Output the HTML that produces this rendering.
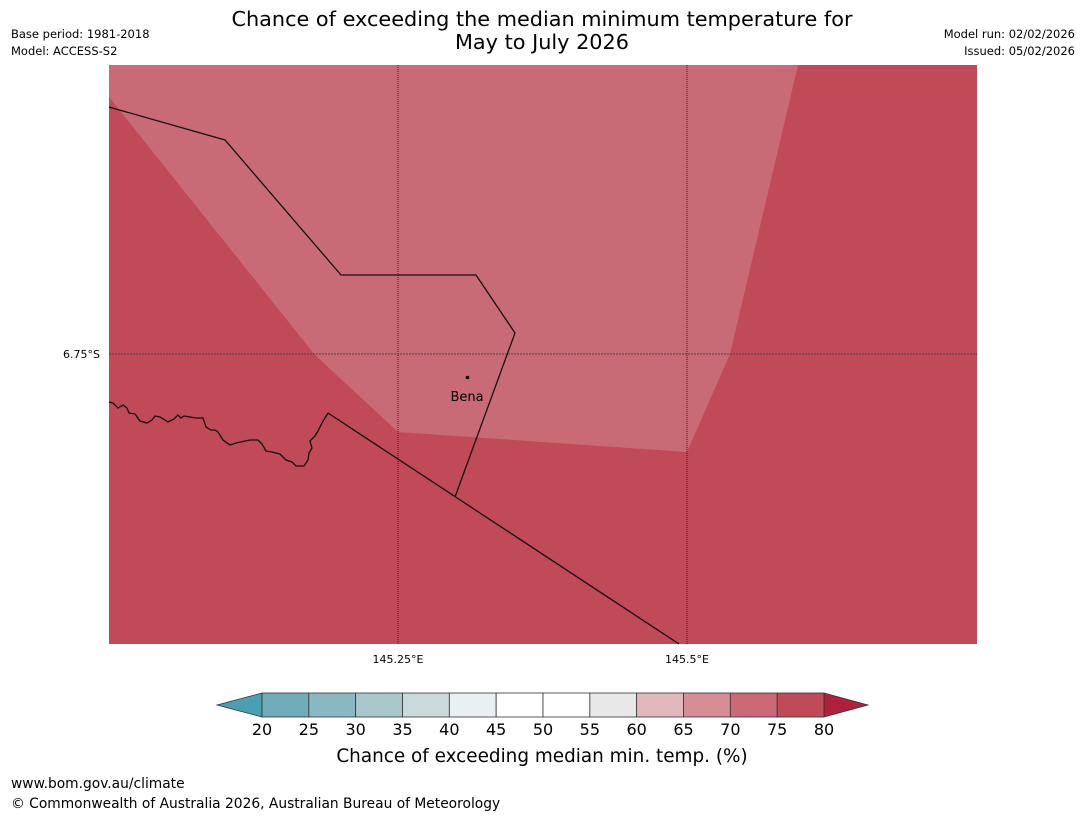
<!DOCTYPE html>
<html><head><meta charset="utf-8"><style>
body{margin:0;background:#fff;width:1085px;height:816px;overflow:hidden;font-family:"Liberation Sans","DejaVu Sans",sans-serif}
svg{display:block}
</style></head><body>
<svg width="1085" height="816" xmlns="http://www.w3.org/2000/svg" font-family="DejaVu Sans, Liberation Sans, sans-serif">
<text x="542" y="26" text-anchor="middle" font-size="20.8">Chance of exceeding the median minimum temperature for</text>
<text x="542" y="49" text-anchor="middle" font-size="20.8">May to July 2026</text>
<text x="11" y="38" font-size="11.5">Base period: 1981-2018</text>
<text x="11" y="55" font-size="11.5">Model: ACCESS-S2</text>
<text x="1075" y="38" font-size="11.5" text-anchor="end">Model run: 02/02/2026</text>
<text x="1075" y="55" font-size="11.5" text-anchor="end">Issued: 05/02/2026</text>
<g>
<rect x="109" y="65" width="868" height="579" fill="#c04a58"/>
<polygon points="109,65 798,65 730,354 687,452 398,432 315,355 109,97" fill="#c96b76"/>
<line x1="398" y1="65" x2="398" y2="644" stroke="#222" stroke-width="1" stroke-dasharray="1,1"/>
<line x1="687" y1="65" x2="687" y2="644" stroke="#222" stroke-width="1" stroke-dasharray="1,1"/>
<line x1="109" y1="354" x2="977" y2="354" stroke="#444" stroke-width="1" stroke-dasharray="2,1"/>
<polyline points="109,107 225,140 341,275 476,275 515,333 455,497" fill="none" stroke="#111" stroke-width="1.3"/>
<line x1="328" y1="413" x2="679" y2="644" stroke="#111" stroke-width="1.3"/>
<polyline points="109,402 113,403 118,408 123,405 127,408 129,413 135,414 140,421 147,423 152,420 155,416 160,417 168,422 174,419 178,415 181,418 184,416 190,417 196,418 203,418 206,427 211,430 215,430 218,432 223,440 230,445 236,443 245,441 250,440 258,440 262,444 266,451 272,452 280,454 286,460 292,462 296,466 304,466 308,460 309,453 312,448 310,441 315,436 318,431 322,423 328,413" fill="none" stroke="#111" stroke-width="1.3"/>
<circle cx="467.5" cy="377.5" r="1.8" fill="#000"/>
<text x="467" y="401" text-anchor="middle" font-size="13">Bena</text>
</g>
<text x="100" y="358" text-anchor="end" font-size="11">6.75°S</text>
<text x="398" y="663" text-anchor="middle" font-size="11">145.25°E</text>
<text x="687" y="663" text-anchor="middle" font-size="11">145.5°E</text>
<g id="cbar"></g>
<text x="542" y="762" text-anchor="middle" font-size="18.4">Chance of exceeding median min. temp. (%)</text>
<text x="11" y="788" font-size="13.8">www.bom.gov.au/climate</text>
<text x="11" y="808" font-size="13.8">© Commonwealth of Australia 2026, Australian Bureau of Meteorology</text>
</svg>
<script>
const ticks=[20,25,30,35,40,45,50,55,60,65,70,75,80];
const binColors=["#6eacb9","#8ab8c2","#a8c7cb","#c9d9dc","#eaf0f2","#ffffff","#ffffff","#e8e8e8","#e3b8bd","#d58d96","#cb6a76","#c04a58"];
const extendColors=["#4aa0b1","#b0203b"];
const NS="http://www.w3.org/2000/svg";
const g=document.getElementById('cbar');
const x0=262,x1=824,y0=693,y1=717;
const sx=v=>x0+(v-ticks[0])/(ticks[ticks.length-1]-ticks[0])*(x1-x0);
function mk(tag,attrs){const e=document.createElementNS(NS,tag);for(const k in attrs)e.setAttribute(k,attrs[k]);g.appendChild(e);return e;}
let l=mk('polygon',{points:`${x0},${y0} ${x0},${y1} 217,${(y0+y1)/2}`,fill:extendColors[0],stroke:'#333','stroke-width':0.8});


let r=mk('polygon',{points:`${x1},${y0} ${x1},${y1} 868,${(y0+y1)/2}`,fill:extendColors[1],stroke:'#333','stroke-width':0.8});


for(let i=0;i<binColors.length;i++){
  const a=sx(ticks[i]),b=sx(ticks[i+1]);
  const e=mk('rect',{x:a,y:y0,width:b-a,height:y1-y0,fill:binColors[i],stroke:'#333','stroke-width':0.8});
  
  
}
ticks.forEach(t=>{
  const e=mk('text',{x:sx(t),y:735,'text-anchor':'middle','font-size':16});
  e.textContent=t;
  
  
});
</script>
</body></html>
